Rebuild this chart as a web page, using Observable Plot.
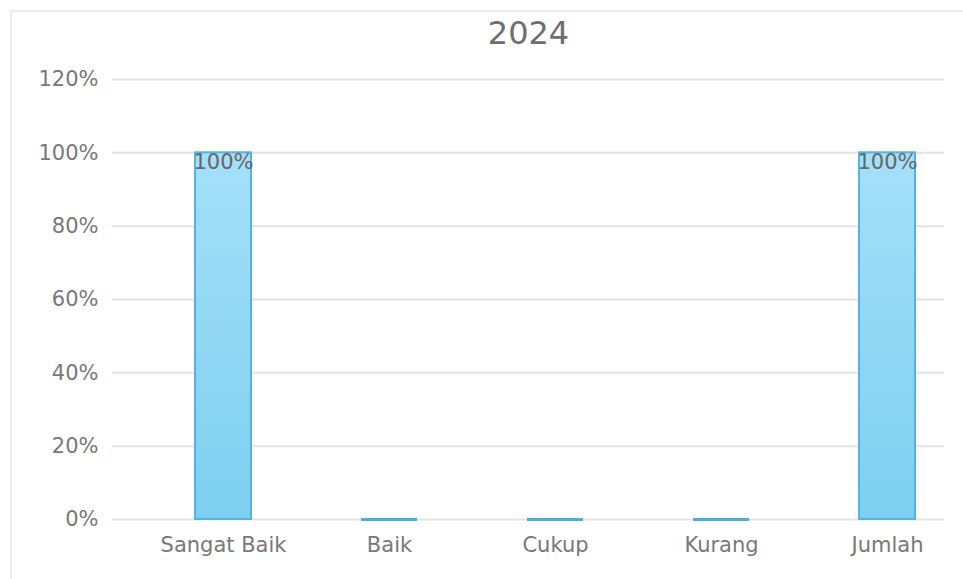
<!DOCTYPE html>
<html>
<head>
<meta charset="utf-8">
<script src="https://cdn.jsdelivr.net/npm/d3@7"></script>
<script src="https://cdn.jsdelivr.net/npm/@observablehq/plot@0.6"></script>
<style>
  body { margin: 0; background: #fff; font-family: "DejaVu Sans", sans-serif; }
  #wrap { position: relative; width: 963px; height: 579px; overflow: hidden; }
  #frame { position: absolute; left: 10px; top: 10px; right: -2px; bottom: -2px;
           border-left: 2px solid #ededed; border-top: 2px solid #ededed; pointer-events: none; }
  #wrap svg { position: absolute; left: 0; top: 0; }
</style>
</head>
<body>
<div id="wrap"><div id="frame"></div></div>
<script>
const title = "2024";
const categories = ["Sangat Baik", "Baik", "Cukup", "Kurang", "Jumlah"];
const values = [1.00, 0, 0, 0, 1.00];
const yTicks = [0, 0.2, 0.4, 0.6, 0.8, 1.0, 1.2];

const data = categories.map((c, i) => ({category: c, value: values[i]}));
const pct = d => Math.round(d * 100) + "%";

const defs = () => {
  const svgNS = "http://www.w3.org/2000/svg";
  const d = document.createElementNS(svgNS, "defs");
  d.innerHTML = `<linearGradient id="barGrad" x1="0" y1="0" x2="0" y2="1">
      <stop offset="0%" stop-color="#a5e0f8"/>
      <stop offset="100%" stop-color="#7dcff0"/>
    </linearGradient>`;
  return d;
};

const chart = Plot.plot({
  width: 963,
  height: 579,
  marginLeft: 112,
  marginRight: 19,
  marginTop: 79,
  marginBottom: 60,
  style: {background: "transparent", fontFamily: "'DejaVu Sans', sans-serif"},
  x: {domain: categories, range: [139, 972], paddingInner: 0.66, paddingOuter: 0.33, label: null},
  y: {domain: [0, 1.2], ticks: yTicks, label: null},
  marks: [
    defs,
    Plot.ruleY(yTicks, {stroke: "#e3e3e3", strokeWidth: 2}),
    Plot.barY(data.filter(d => d.value > 0), {x: "category", y: "value", fill: "url(#barGrad)", stroke: "#52b4e2", strokeWidth: 2}),
    Plot.tickY(data.filter(d => d.value === 0), {x: "category", y: "value", stroke: "#4aaedf", strokeWidth: 3}),
    Plot.text(data.filter(d => d.value > 0), {x: "category", y: "value", text: d => pct(d.value), dy: 9, fill: "#666666", fontSize: 21}),
    Plot.text([title], {frameAnchor: "top", lineAnchor: "middle", dy: -46, fontSize: 32, fill: "#6e6e6e"}),
    Plot.axisX({tickSize: 0, tickPadding: 18, fontSize: 21, color: "#787878"}),
    Plot.axisY({ticks: yTicks, tickFormat: pct, tickSize: 0, tickPadding: 14, fontSize: 21, color: "#787878"})
  ]
});
document.getElementById("wrap").appendChild(chart);
</script>
</body>
</html>
